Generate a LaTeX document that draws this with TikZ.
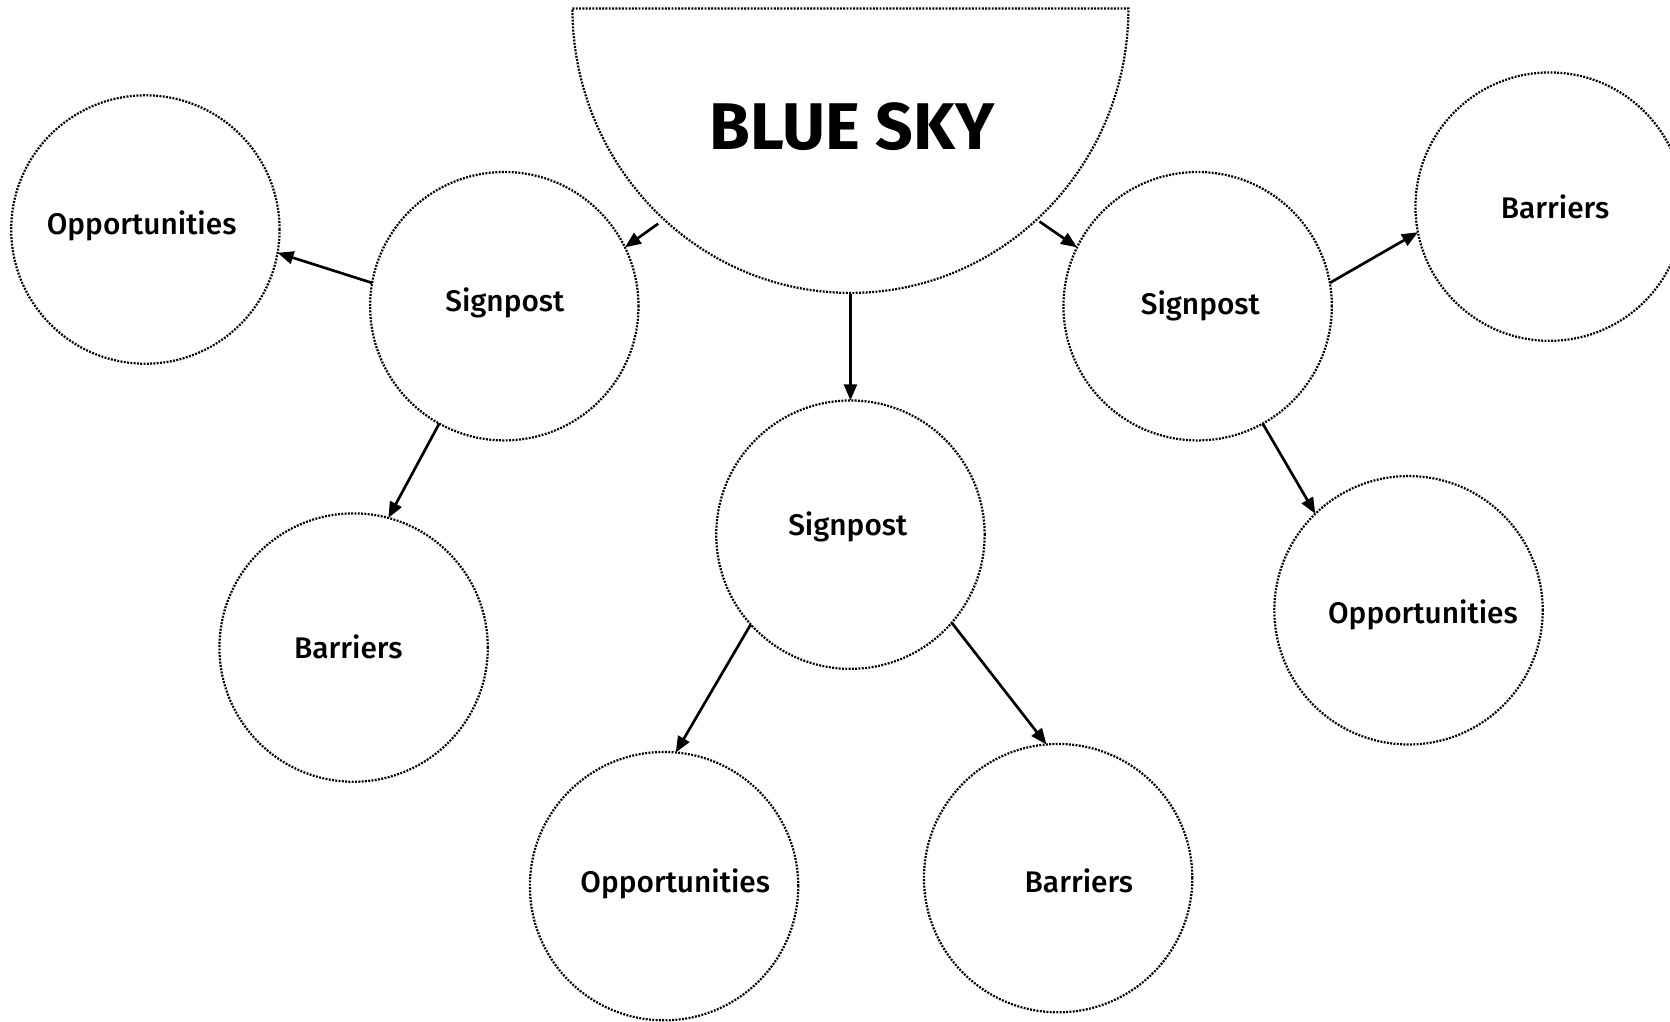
\documentclass[tikz,border=0pt]{standalone}
\usepackage{fontspec}
\setmainfont{Fira Sans}[UprightFont={* Medium}, BoldFont={* Bold}]
\usetikzlibrary{arrows.meta}

\tikzset{
  dotline/.style={line width=2.1pt, dash pattern=on 1.8pt off 1.3pt},
  bubble/.style={circle, dotline, draw, minimum size=252pt, inner sep=0pt, outer sep=0pt},
  lbl/.style={anchor=base, font=\fontsize{28}{30}\selectfont, inner sep=0pt},
  link/.style={line width=2.5pt, -{Triangle[length=15pt,width=12pt]}}
}

\begin{document}
\begin{tikzpicture}[x=1pt,y=-1pt]
  \useasboundingbox (0,0) rectangle (1568,959);

  % top half-disc
  \draw[dotline] (537.5,8) -- (1059.5,8)
    arc[start angle=0, end angle=180, x radius=261, y radius=267] -- cycle;
  \node[anchor=base, inner sep=0pt, font=\bfseries\fontsize{62}{64}\selectfont] (sky) at (800,140) {BLUE SKY};
  \coordinate (skyL) at (618,210);
  \coordinate (skyR) at (976,208);
  \coordinate (skyB) at (798.5,276);

  % bubbles
  \node[bubble] (otl) at (136.5,215.5) {};
  \node[bubble] (sl)  at (473.5,287.5) {};
  \node[bubble] (bl)  at (332,608) {};
  \node[bubble] (sc)  at (798.5,502) {};
  \node[bubble] (obc) at (623.5,832) {};
  \node[bubble] (bbc) at (993.5,824.5) {};
  \node[bubble] (sr)  at (1124.5,287.5) {};
  \node[bubble] (btr) at (1455,194) {};
  \node[bubble] (or)  at (1322.5,573) {};

  % labels
  \node[lbl] (totl) at (133,220) {Opportunities};
  \node[lbl] (tsl)  at (474,292) {Signpost};
  \node[lbl] (tbl)  at (327,618) {Barriers};
  \node[lbl] (tsc)  at (796,503) {Signpost};
  \node[lbl] (tobc) at (634,838) {Opportunities};
  \node[lbl] (tbbc) at (1013,838) {Barriers};
  \node[lbl] (tsr)  at (1127,295) {Signpost};
  \node[lbl] (tbtr) at (1460,205) {Barriers};
  \node[lbl] (tor)  at (1336,585) {Opportunities};

  % connectors
  \draw[link] (skyL) -- (sl.26);
  \draw[link] (skyR) -- (sr.154);
  \draw[link] (skyB) -- (sc.north);
  \draw[link] (sl.170) -- (otl.350);
  \draw[link] (sl.241) -- (bl.75);
  \draw[link] (sc.222) -- (obc.85);
  \draw[link] (sc.319) -- (bbc.95);
  \draw[link] (sr.10) -- (btr.191);
  \draw[link] (sr.299) -- (or.134);
\end{tikzpicture}
\end{document}
